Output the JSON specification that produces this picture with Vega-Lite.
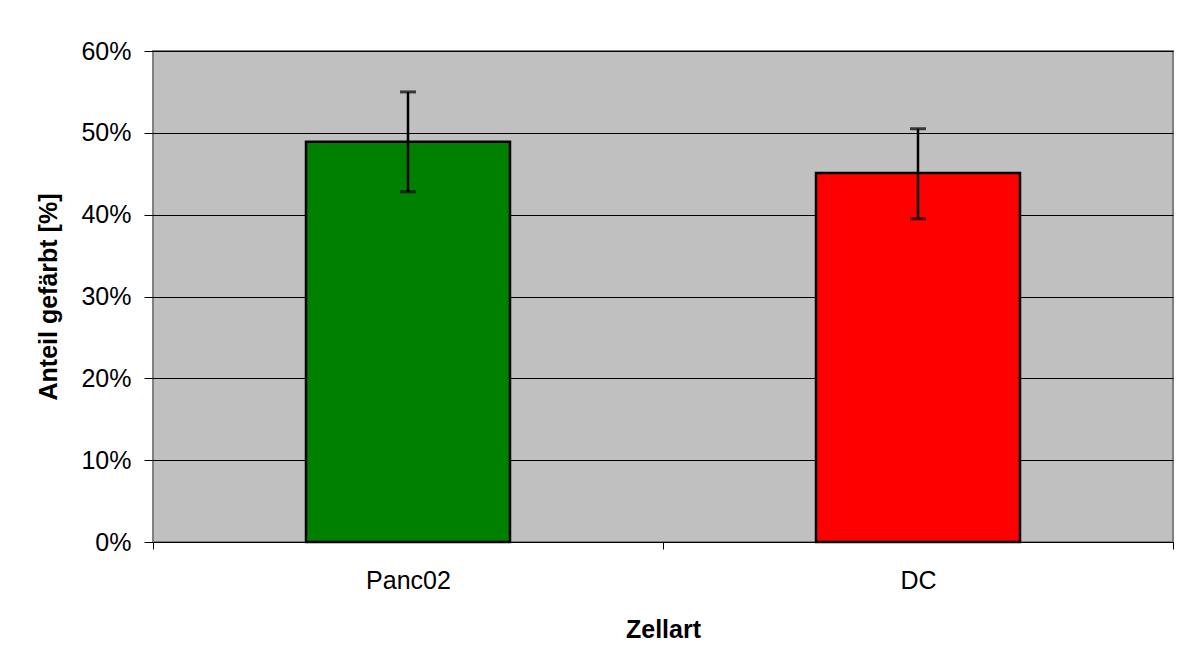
{
  "$schema": "https://vega.github.io/schema/vega-lite/v6.json",
  "autosize": "none",
  "width": 1020,
  "height": 491,
  "padding": {"left": 153, "top": 51, "right": 11, "bottom": 121},
  "background": "white",
  "config": {
    "font": "Liberation Sans",
    "view": {"fill": "#C0C0C0", "stroke": "#808080", "strokeWidth": 2}
  },
  "data": {
    "values": [
      {"Zellart": "Panc02", "Anteil": 0.489, "low": 0.428, "high": 0.550},
      {"Zellart": "DC", "Anteil": 0.451, "low": 0.395, "high": 0.505}
    ]
  },
  "encoding": {
    "x": {
      "field": "Zellart",
      "type": "nominal",
      "sort": ["Panc02", "DC"],
      "scale": {"paddingInner": 0, "paddingOuter": 0},
      "axis": {
        "title": "Zellart",
        "labelAngle": 0,
        "labelFontSize": 25,
        "labelColor": "black",
        "labelPadding": 19,
        "tickBand": "extent",
        "tickSize": 7,
        "tickColor": "black",
        "domainColor": "black",
        "domainWidth": 1,
        "grid": false,
        "titleFontSize": 25,
        "titleFontWeight": "bold",
        "titleColor": "black",
        "titlePadding": 24
      }
    }
  },
  "layer": [
    {
      "mark": {"type": "bar", "stroke": "black", "strokeWidth": 2.5, "width": {"band": 0.4}},
      "encoding": {
        "y": {
          "field": "Anteil",
          "type": "quantitative",
          "scale": {"domain": [0, 0.6], "nice": false},
          "axis": {
            "title": "Anteil gefärbt [%]",
            "format": ".0%",
            "values": [0, 0.1, 0.2, 0.3, 0.4, 0.5, 0.6],
            "labelFontSize": 25,
            "labelColor": "black",
            "labelPadding": 13,
            "tickSize": 9,
            "tickColor": "black",
            "domain": false,
            "grid": true,
            "gridColor": "black",
            "gridWidth": 1,
            "gridOpacity": 1,
            "titleFontSize": 25,
            "titleFontWeight": "bold",
            "titleColor": "black",
            "titlePadding": 19
          }
        },
        "color": {
          "field": "Zellart",
          "type": "nominal",
          "scale": {"domain": ["Panc02", "DC"], "range": ["#008000", "#FF0000"]},
          "legend": null
        }
      }
    },
    {
      "mark": {"type": "rule", "color": "black", "strokeWidth": 2.5},
      "encoding": {
        "y": {"field": "low", "type": "quantitative"},
        "y2": {"field": "high"}
      }
    },
    {
      "mark": {"type": "tick", "color": "black", "size": 16, "thickness": 3},
      "encoding": {"y": {"field": "low", "type": "quantitative"}}
    },
    {
      "mark": {"type": "tick", "color": "black", "size": 16, "thickness": 3},
      "encoding": {"y": {"field": "high", "type": "quantitative"}}
    }
  ]
}
